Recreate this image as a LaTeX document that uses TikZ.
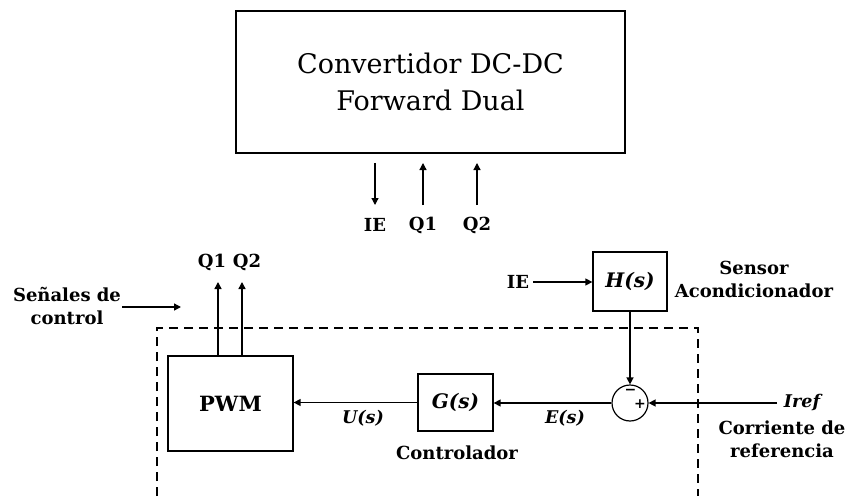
\documentclass[tikz,border=0pt]{standalone}
\usepackage{fontspec}
\setmainfont{DejaVu Serif}
\usetikzlibrary{arrows.meta}
\begin{document}
\begin{tikzpicture}[x=1pt,y=-1pt,
  blk/.style={draw,line width=1.3pt,inner sep=0pt},
  arr/.style={line width=1.4pt,-{Triangle[length=7pt,width=7pt]}},
  lbl/.style={font=\bfseries\fontsize{18}{23}\selectfont,inner sep=0pt,align=center},
  mlbl/.style={font=\bfseries\itshape\fontsize{17.5}{20}\selectfont,inner sep=0pt},
  glbl/.style={font=\bfseries\itshape\fontsize{20}{22}\selectfont,inner sep=0pt},
  sgn/.style={font=\bfseries\fontsize{14}{14}\selectfont,inner sep=0pt}]
\useasboundingbox (0,0) rectangle (850,497);
% top converter
\node[blk,line width=1.8pt,minimum width=389pt,minimum height=142pt,align=center,
      font=\fontsize{27}{37}\selectfont] (conv) at (430.5,82) {Convertidor DC-DC\\Forward Dual};
\node[lbl] (ie1) at (375,225) {IE};
\node[lbl] (q1a) at (423,225) {Q1};
\node[lbl] (q2a) at (477,225) {Q2};
\coordinate (ie1t) at (375,163); \coordinate (ie1b) at (375,205);
\coordinate (q1t) at (423,163); \coordinate (q1b) at (423,205);
\coordinate (q2t) at (477,163); \coordinate (q2b) at (477,205);
\draw[line width=1.2pt,-{Triangle[length=7pt,width=7pt]}] (ie1t) -- (ie1b);
\draw[line width=1.2pt,-{Triangle[length=7pt,width=7pt]}] (q1b) -- (q1t);
\draw[line width=1.2pt,-{Triangle[length=7pt,width=7pt]}] (q2b) -- (q2t);
% dashed box
\draw[line width=1.2pt,dash pattern=on 9pt off 6pt] (157,496) -- (157,328) -- (698,328) -- (698,496);
% blocks
\node[blk,minimum width=125pt,minimum height=95pt,font=\bfseries\fontsize{21}{24}\selectfont] (pwm) at (230.5,403.5) {PWM};
\node[blk,minimum width=75pt,minimum height=57pt,glbl] (g) at (455.5,402.5) {G(s)};
\node[blk,minimum width=74pt,minimum height=59pt,glbl] (h) at (630,281.5) {H(s)};
\node[draw,circle,line width=1.2pt,minimum size=36pt,inner sep=0pt] (sum) at (630,403) {};
\node[sgn] (minus) at (630.5,392) {−};
\node[sgn] (plus) at (640,404) {+};
% labels
\node[lbl] (q1) at (212,262) {Q1};
\node[lbl] (q2) at (247,262) {Q2};
\node[lbl,align=center] (sen) at (67,306) {Señales de\\control};
\node[lbl] (ie2) at (518,282) {IE};
\node[lbl,align=center] (sac) at (754,279) {Sensor\\Acondicionador};
\node[mlbl] (iref) at (802,403) {Iref};
\node[lbl,align=center] (cref) at (782,439) {Corriente de\\referencia};
\node[mlbl] (us) at (363,418) {U(s)};
\node[mlbl] (es) at (565,418) {E(s)};
\node[lbl] (ctl) at (457,453) {Controlador};
% connectors
\coordinate (pq1) at (218,356); \coordinate (pq1e) at (218,282);
\coordinate (pq2) at (242,356); \coordinate (pq2e) at (242,282);
\draw[arr] (pq1) -- (pq1e);
\draw[arr] (pq2) -- (pq2e);
\coordinate (sa) at (122,307); \coordinate (sb) at (181,307);
\draw[arr] (sa) -- (sb);
\coordinate (iea) at (533,282);
\draw[arr] (iea) -- (h.west |- iea);
\draw[arr] (h.south) -- (sum.north);
\coordinate (ira) at (777,403);
\draw[arr] (ira) -- (sum.east);
\draw[arr] (sum.west) -- (g.east |- sum.west);
\draw[arr] (g.west) -- (pwm.east |- g.west);
\end{tikzpicture}
\end{document}
